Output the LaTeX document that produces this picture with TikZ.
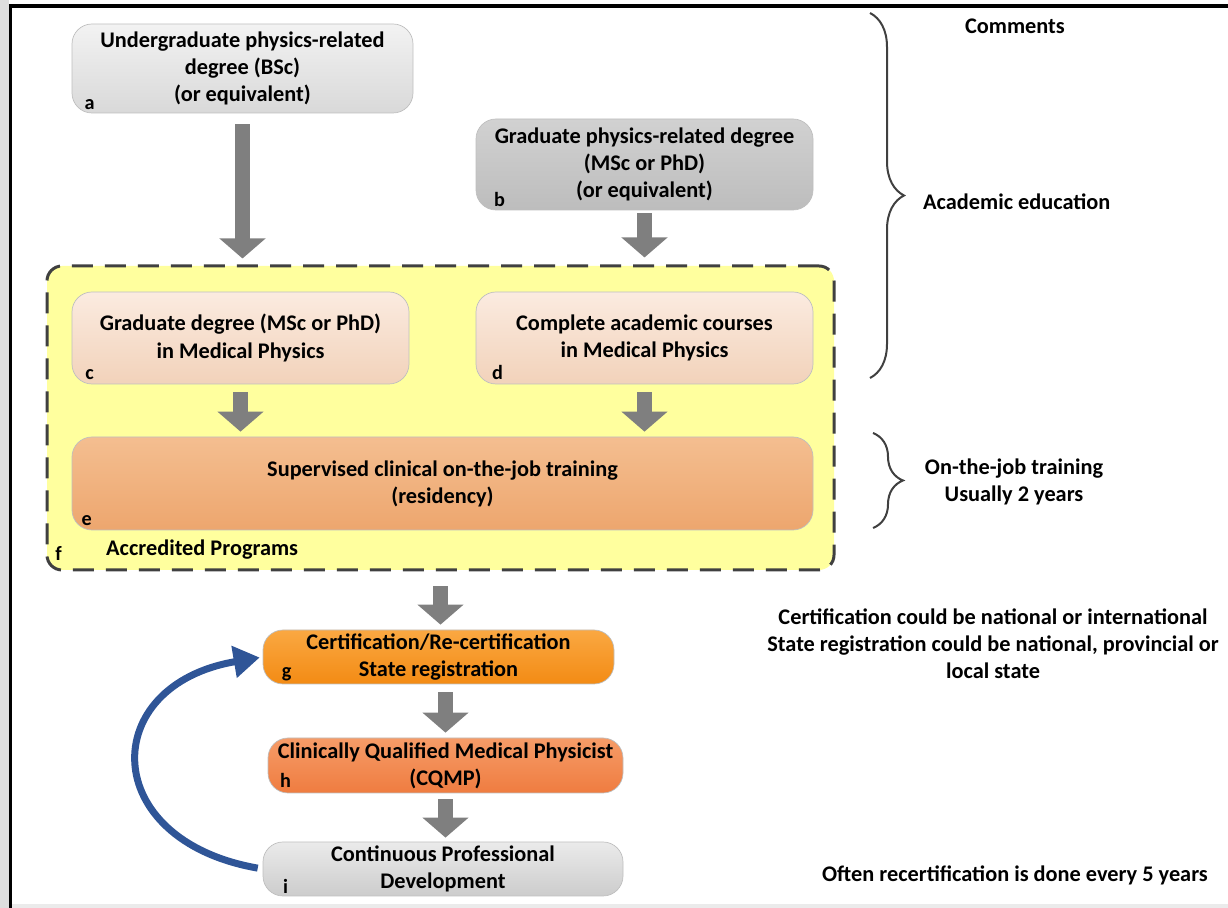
\documentclass[tikz,border=0pt]{standalone}
\usepackage{fontspec}
\setmainfont{Carlito}
\usepackage{tikz}
\usetikzlibrary{arrows.meta,positioning,decorations.pathreplacing}
\definecolor{flowgrey}{HTML}{7F7F7F}
\definecolor{accyellow}{HTML}{FFFF9E}
\definecolor{dashgrey}{HTML}{404040}
\definecolor{loopblue}{HTML}{2F5597}
\definecolor{framegrey}{HTML}{DEDEDE}

\begin{document}
\begin{tikzpicture}[font=\bfseries\fontsize{12.7}{15.4}\selectfont,
  stage/.style={draw=black!25,rounded corners=0.4cm,align=center,inner sep=1pt},
  lettertag/.style={font=\bfseries\fontsize{11.5}{12}\selectfont,inner sep=0pt},
  flow/.style={line width=0.3cm,draw=flowgrey,-{Triangle[width=0.9cm,length=0.4cm]},
    shorten <=0.16cm,shorten >=0.1cm},
  backarrow/.style={line width=0.14cm,draw=loopblue,-{Triangle[width=0.62cm,length=0.52cm]},
    shorten <=0.1cm,shorten >=0.06cm},
  curlybrace/.style={decorate,line width=0.04cm,draw=black!75}]
  \useasboundingbox (0,0) rectangle (24.56,18.16);
  % frame
  \fill[framegrey] (0,0) rectangle (0.18,18.16);
  \fill[black!8] (0.24,0) rectangle (24.56,0.08);
  \draw[line width=0.06cm] (0.21,0) -- (0.21,18.04);
  \draw[line width=0.08cm] (0.18,18.04) -- (24.56,18.04);
  % accredited programs (f)
  \node[draw=dashgrey,fill=accyellow,line width=0.06cm,dash pattern=on 0.42cm off 0.24cm,
        rounded corners=0.3cm,minimum width=15.74cm,minimum height=6.08cm] (f) at (8.81,9.80) {};
  \node[anchor=west] (acc) at (2.00,7.16) {Accredited Programs};
  \node[lettertag] at ([shift={(0.26,0.36)}]f.south west) {f};
  % academic education
  \node[stage,top color=black!5,bottom color=black!15,minimum width=6.82cm,minimum height=1.78cm]
        (a) at (4.85,16.79) {Undergraduate physics-related\\degree (BSc)\\(or equivalent)};
  \node[stage,top color=black!18,bottom color=black!26,minimum width=6.74cm,minimum height=1.82cm]
        (b) at (12.89,14.87) {Graduate physics-related degree\\(MSc or PhD)\\(or equivalent)};
  \node[stage,top color={rgb,255:red,251;green,235;blue,224},bottom color={rgb,255:red,242;green,210;blue,186},
        minimum width=6.74cm,minimum height=1.84cm]
        (c) at (4.81,11.40) {Graduate degree (MSc or PhD)\\in Medical Physics};
  \node[stage,top color={rgb,255:red,251;green,235;blue,224},bottom color={rgb,255:red,242;green,210;blue,186},
        minimum width=6.74cm,minimum height=1.84cm]
        (d) at (12.89,11.40) {Complete academic courses\\in Medical Physics};
  % on-the-job training
  \node[stage,top color={rgb,255:red,244;green,190;blue,144},bottom color={rgb,255:red,237;green,166;blue,110},
        minimum width=14.82cm,minimum height=1.86cm]
        (e) at (8.85,8.49) {Supervised clinical on-the-job training\\(residency)};
  % certification chain
  \node[stage,top color={rgb,255:red,250;green,168;blue,66},bottom color={rgb,255:red,243;green,139;blue,20},
        minimum width=7.02cm,minimum height=1.08cm]
        (g) at (8.77,5.02) {Certification/Re-certification\\State registration};
  \node[stage,top color={rgb,255:red,246;green,156;blue,104},bottom color={rgb,255:red,239;green,124;blue,64},
        minimum width=7.10cm,minimum height=1.10cm]
        (h) at (8.91,2.85) {Clinically Qualified Medical Physicist\\(CQMP)};
  \node[stage,top color=black!8,bottom color=black!20,minimum width=7.20cm,minimum height=1.08cm]
        (i) at (8.86,0.78) {Continuous Professional\\Development};
  % letters
  \node[lettertag] at ([shift={(0.36,0.18)}]a.south west) {a};
  \node[lettertag] at ([shift={(0.48,0.22)}]b.south west) {b};
  \node[lettertag] at ([shift={(0.36,0.2)}]c.south west) {c};
  \node[lettertag] at ([shift={(0.44,0.24)}]d.south west) {d};
  \node[lettertag] at ([shift={(0.3,0.2)}]e.south west) {e};
  \node[lettertag] at ([shift={(0.48,0.2)}]g.south west) {g};
  \node[lettertag] at ([shift={(0.36,0.26)}]h.south west) {h};
  \node[lettertag] at ([shift={(0.46,0.2)}]i.south west) {i};
  % grey flow arrows
  \draw[flow,shorten <=0.22cm,shorten >=0.12cm] (a.south) -- (a.south |- f.north);
  \draw[flow,shorten <=0.06cm,shorten >=0.14cm] (b.south) -- (b.south |- f.north);
  \draw[flow] (c.south) -- (c.south |- e.north);
  \draw[flow] (d.south) -- (d.south |- e.north);
  \draw[flow,shorten <=0.3cm] (f.south) -- (f.south |- g.north);
  \draw[flow] (h.north |- g.south) -- (h.north);
  \draw[flow,shorten <=0.12cm,shorten >=0.08cm] (h.south) -- (h.south |- i.north);
  % recertification loop
  \draw[backarrow] (i.west) .. controls (1.95,1.36) and (1.95,4.46) .. (g.west);
  % comments column
  \draw[curlybrace,decoration={brace,amplitude=0.68cm}] (17.40,17.90) -- (17.40,10.60);
  \draw[curlybrace,decoration={brace,amplitude=0.6cm}] (17.46,9.50) -- (17.46,7.60);
  \node (comments) at (20.30,17.64) {Comments};
  \node[anchor=west] (acad) at (18.34,14.12) {Academic education};
  \node[align=center] (otj) at (20.28,8.52) {On-the-job training\\Usually 2 years};
  \node[align=center] (cert) at (19.86,5.28)
        {Certification could be national or international\\State registration could be national, provincial or\\local state};
  \node (recert) at (20.30,0.66) {Often recertification is done every 5 years};
\end{tikzpicture}
\end{document}
